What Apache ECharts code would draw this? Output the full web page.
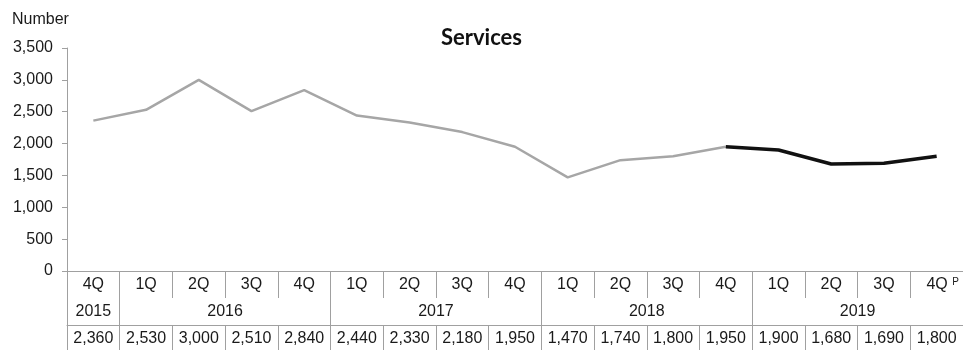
<!DOCTYPE html>
<html>
<head>
<meta charset="utf-8">
<script src="https://cdn.jsdelivr.net/npm/echarts@6/dist/echarts.min.js"></script>
<style>
  html, body { margin: 0; padding: 0; background: #fff; }
  #chart { width: 963px; height: 350px; }
</style>
</head>
<body>
<div id="chart"></div>
<script>
// Quarterly counts, 4Q 2015 to 4Q 2019 (last quarter provisional)
const quarters = ['4Q', '1Q', '2Q', '3Q', '4Q', '1Q', '2Q', '3Q', '4Q',
                  '1Q', '2Q', '3Q', '4Q', '1Q', '2Q', '3Q', '4Q P'];
const values = [2360, 2530, 3000, 2510, 2840, 2440, 2330, 2180, 1950,
                1470, 1740, 1800, 1950, 1900, 1680, 1690, 1800];
const years = ['2015', '2016', '2017', '2018', '2019'];
const yearSizes = [1, 4, 4, 4, 4];          // quarters per year group
const revisedFrom = 12;                      // index where the dark segment starts

const fmt = v => v.toLocaleString('en-US');

// Split the line into the grey (earlier) and black (recent) segments
const greyData = values.map((v, i) => (i <= revisedFrom ? v : null));
const blackData = values.map((v, i) => (i >= revisedFrom ? v : null));

// Year group boundaries and centres in band units
const yearEdges = [0];
yearSizes.forEach(s => yearEdges.push(yearEdges[yearEdges.length - 1] + s));
const yearCentres = yearSizes.map((s, i) => yearEdges[i] + s / 2);

const lineCol = '#a0a0a0';
const txt = '#1a1a1a';
const font = 'Liberation Sans, Arial, sans-serif';
const fs = 16;

const chart = echarts.init(document.getElementById('chart'), null, { renderer: 'canvas' });
chart.setOption({
  animation: false,
  textStyle: { fontFamily: font },
  title: {
    text: 'Services',
    left: 'center',
    top: 22,
    textStyle: { fontFamily: 'Lato, Open Sans, sans-serif', fontWeight: 'bold', fontSize: 22, color: '#111' }
  },
  graphic: [{
    type: 'text', left: 12, top: 12,
    style: { text: 'Number', font: fs + 'px ' + font, fill: txt }
  }],
  grid: { left: 67, right: 0, top: 48, bottom: 79, containLabel: false },
  xAxis: [
    {
      type: 'category',
      data: quarters,
      boundaryGap: true,
      axisLine: { show: true, lineStyle: { color: lineCol, width: 1 } },
      axisTick: { show: true, interval: 0, length: 27, lineStyle: { color: lineCol } },
      axisLabel: {
        interval: 0, margin: 6, fontSize: fs, color: txt, fontFamily: font,
        // provisional marker: small raised "P" after the quarter
        formatter: v => v.endsWith(' P') ? '{q|' + v.replace(' P', '') + '} {p|P}' : v,
        rich: {
          q: { fontSize: fs, color: txt, fontFamily: font, padding: [0, 0, 0, 12] },
          p: { fontSize: 10, color: txt, fontFamily: font, padding: [0, 0, 6, 0] }
        }
      }
    },
    {
      type: 'category',
      data: values.map(fmt),
      boundaryGap: true,
      position: 'bottom',
      offset: 54,
      axisLine: { show: true, lineStyle: { color: lineCol, width: 1 } },
      axisTick: { show: true, interval: 0, length: 26, lineStyle: { color: lineCol } },
      axisLabel: { interval: 0, margin: 6, fontSize: fs, color: txt, fontFamily: font }
    },
    {
      type: 'value',
      min: 0,
      max: quarters.length,
      position: 'bottom',
      splitLine: { show: false },
      axisLine: { show: false },
      axisTick: { show: true, length: 54, customValues: yearEdges, lineStyle: { color: lineCol } },
      axisLabel: {
        customValues: yearCentres, margin: 33, fontSize: fs, color: txt, fontFamily: font,
        formatter: v => years[yearCentres.indexOf(v)] || ''
      }
    }
  ],
  yAxis: {
    type: 'value',
    min: 0,
    max: 3500,
    interval: 500,
    axisLine: { show: true, lineStyle: { color: lineCol, width: 1 } },
    axisTick: { show: true, length: 5, lineStyle: { color: lineCol } },
    splitLine: { show: false },
    axisLabel: { margin: 14, fontSize: fs, color: txt, fontFamily: font, formatter: v => fmt(v) }
  },
  series: [
    {
      type: 'line', xAxisIndex: 0, data: greyData, showSymbol: false, connectNulls: false,
      lineStyle: { color: '#a6a6a6', width: 2.5 }
    },
    {
      type: 'line', xAxisIndex: 0, data: blackData, showSymbol: false, connectNulls: false,
      lineStyle: { color: '#111111', width: 3.5 }
    }
  ]
});
</script>
</body>
</html>
